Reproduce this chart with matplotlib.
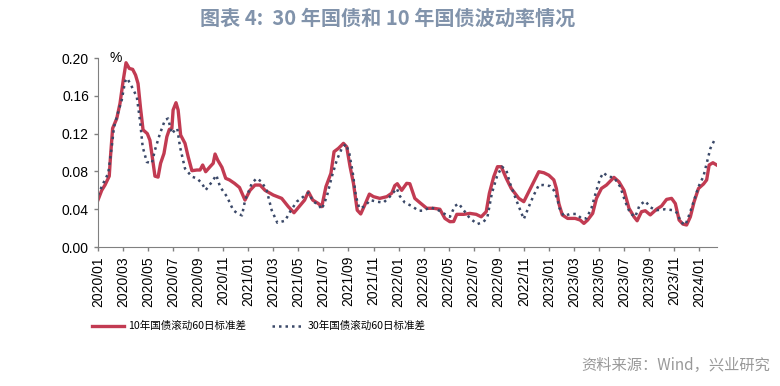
import matplotlib
matplotlib.use("Agg")
import matplotlib.pyplot as plt

plt.rcParams['font.family'] = ['Liberation Sans', 'Noto Sans CJK SC', 'DejaVu Sans']

# Mois écoulés depuis 2020/01 et valeurs
red_m = [0, 0.3, 0.56, 0.9, 1.0, 1.17, 1.5, 1.76, 2.02, 2.24, 2.5, 2.77, 3.0, 3.2, 3.4, 3.6,
         3.94, 4.15, 4.37, 4.55, 4.8, 5.0, 5.27, 5.5, 5.7, 5.9, 6.0, 6.23, 6.4, 6.6, 6.95, 7.2,
         7.5, 7.9, 8.15, 8.36, 8.6, 8.95, 9.2, 9.35, 9.56, 9.9, 10.2, 10.5, 10.9, 11.3, 11.74,
         12.14, 12.54, 12.94, 13.34, 14.0, 14.67, 15.2, 15.65, 16.1, 16.5, 16.8, 17.15, 17.6,
         17.87, 18.2, 18.6, 18.85, 19.2, 19.6, 19.86, 20.13, 20.4, 20.7, 20.98, 21.3, 21.67,
         22.0, 22.5, 23.06, 23.46, 23.7, 23.9, 24.25, 24.65, 24.9, 25.3, 25.7, 26.25, 26.8,
         27.3, 27.7, 28.1, 28.4, 28.65, 29.2, 29.7, 30.2, 30.6, 31.0, 31.25, 31.6, 31.9, 32.2,
         32.6, 33.0, 33.6, 34.0, 34.4, 34.8, 35.2, 35.6, 36.0, 36.4, 36.6, 36.8, 37.07, 37.5,
         38.1, 38.5, 38.8, 39.1, 39.5, 39.8, 40.2, 40.6, 41.2, 41.6, 42.0, 42.4, 42.8, 43.05,
         43.4, 43.7, 44.1, 44.6, 45.0, 45.4, 45.8, 46.1, 46.4, 46.7, 47.0, 47.3, 47.6, 47.95,
         48.35, 48.6, 48.8, 49.1, 49.4]
red_v = [0.0497, 0.060, 0.0656, 0.075, 0.0956, 0.1256, 0.136, 0.152, 0.1767, 0.195, 0.189,
         0.188, 0.182, 0.173, 0.1468, 0.124, 0.120, 0.113, 0.092, 0.075, 0.074, 0.0886, 0.099,
         0.1167, 0.1245, 0.1255, 0.145, 0.1527, 0.145, 0.1185, 0.1097, 0.0956, 0.0808, 0.0815,
         0.0815, 0.0868, 0.0797, 0.085, 0.0886, 0.0984, 0.092, 0.0843, 0.0727, 0.071, 0.0674,
         0.063, 0.0497, 0.060, 0.0656, 0.0656, 0.060, 0.055, 0.0515, 0.0427, 0.0363, 0.0434,
         0.0497, 0.0585, 0.0497, 0.046, 0.0427, 0.0638, 0.078, 0.1009, 0.1044, 0.1097, 0.106,
         0.085, 0.0674, 0.039, 0.035, 0.0444, 0.056, 0.0533, 0.0515, 0.0533, 0.057, 0.065,
         0.067, 0.060, 0.0674, 0.067, 0.0515, 0.047, 0.041, 0.041, 0.040, 0.0303, 0.0268, 0.027,
         0.0346, 0.0346, 0.0356, 0.0346, 0.032, 0.0374, 0.0568, 0.0744, 0.085, 0.085, 0.0727,
         0.062, 0.0515, 0.048, 0.0585, 0.069, 0.0797, 0.0786, 0.076, 0.071, 0.062, 0.046, 0.034,
         0.0303, 0.0303, 0.0286, 0.025, 0.0286, 0.0356, 0.0515, 0.062, 0.0656, 0.0737, 0.069,
         0.060, 0.041, 0.032, 0.0278, 0.0374, 0.0384, 0.034, 0.040, 0.0434, 0.0504, 0.0515,
         0.046, 0.0286, 0.0243, 0.0233, 0.032, 0.048, 0.062, 0.0667, 0.071, 0.0868, 0.0892,
         0.0868]

blue_m = [0, 0.42, 0.82, 1.1, 1.28, 1.62, 1.9, 2.16, 2.34, 2.7, 3.1, 3.35, 3.57, 3.9, 4.3,
          4.55, 4.95, 5.35, 5.6, 5.9, 6.15, 6.33, 6.55, 6.95, 7.5, 7.9, 8.3, 8.6, 9.1, 9.45,
          9.75, 10.3, 10.8, 11.2, 11.5, 11.75, 12.1, 12.28, 12.67, 13.07, 13.47, 13.87, 14.32,
          14.94, 15.34, 15.87, 16.4, 16.8, 17.2, 17.6, 17.87, 18.27, 18.67, 19.07, 19.47, 19.8,
          20.07, 20.35, 20.6, 20.87, 21.3, 21.73, 22.26, 22.8, 23.3, 23.86, 24.1, 24.5, 25.05,
          25.6, 26.0, 26.5, 27.05, 27.6, 28.1, 28.5, 28.8, 29.2, 29.7, 30.3, 30.8, 31.1, 31.45,
          31.85, 32.25, 32.6, 32.9, 33.4, 33.8, 34.0, 34.4, 34.8, 35.2, 35.6, 36.1, 36.4, 36.7,
          36.85, 37.2, 37.7, 38.2, 38.6, 39.0, 39.4, 39.8, 40.1, 40.35, 40.75, 41.2, 41.7, 42.1,
          42.5, 42.9, 43.25, 43.7, 44.1, 44.6, 45.3, 45.9, 46.3, 46.5, 46.9, 47.25, 47.6, 47.95,
          48.35, 48.7, 48.9, 49.2, 49.35]
blue_v = [0.055, 0.0674, 0.078, 0.106, 0.127, 0.143, 0.1556, 0.175, 0.1785, 0.1697, 0.159,
          0.1344, 0.106, 0.090, 0.0886, 0.1026, 0.120, 0.1344, 0.136, 0.120, 0.1238, 0.1256,
          0.106, 0.083, 0.0744, 0.0727, 0.0674, 0.0603, 0.069, 0.076, 0.0638, 0.0533, 0.039,
          0.035, 0.0335, 0.0497, 0.061, 0.0674, 0.0727, 0.069, 0.060, 0.039, 0.0257, 0.0278,
          0.0374, 0.048, 0.0533, 0.0575, 0.048, 0.045, 0.0399, 0.0533, 0.0744, 0.092, 0.1044,
          0.109, 0.099, 0.078, 0.0533, 0.041, 0.043, 0.0497, 0.048, 0.047, 0.0533, 0.062, 0.054,
          0.047, 0.0434, 0.0384, 0.0385, 0.042, 0.040, 0.0356, 0.032, 0.0434, 0.046, 0.039,
          0.0303, 0.0243, 0.0268, 0.032, 0.0568, 0.0744, 0.085, 0.0815, 0.0674, 0.0497, 0.0363,
          0.0296, 0.0427, 0.055, 0.0656, 0.0656, 0.0645, 0.060, 0.0497, 0.041, 0.0328, 0.035,
          0.035, 0.0303, 0.0303, 0.041, 0.060, 0.0727, 0.0786, 0.0744, 0.0737, 0.0638, 0.048,
          0.0356, 0.032, 0.0444, 0.0487, 0.042, 0.039, 0.040, 0.039, 0.0356, 0.0268, 0.0233,
          0.0356, 0.0497, 0.0638, 0.075, 0.0939, 0.1044, 0.1125, 0.115]

tick_pos = list(range(0, 49, 2))
tick_labels = [f"{2020 + m // 12}/{m % 12 + 1:02d}" for m in tick_pos]

fig = plt.figure(figsize=(7.8, 3.86), dpi=100)
ax = fig.add_axes([0.1256, 0.360, 0.7932, 0.4897])

ax.plot(red_m, red_v, color='#c23b52', lw=2.4, label='10年国债滚动60日标准差')
ax.plot(blue_m, blue_v, color='#3a4868', lw=1.8, linestyle=(0, (1, 1.6)),
        label='30年国债滚动60日标准差')

ax.set_xlim(0, 49.4)
ax.set_ylim(0, 0.2)
ax.set_yticks([0, 0.04, 0.08, 0.12, 0.16, 0.20])
ax.set_yticklabels([f"{v:.2f}" for v in [0, 0.04, 0.08, 0.12, 0.16, 0.20]])
ax.set_xticks(tick_pos)
ax.set_xticklabels(tick_labels, rotation=90)
ax.tick_params(axis='both', labelsize=10, length=3, color='#808080', width=1)
for s in ['top', 'right']:
    ax.spines[s].set_visible(False)
for s in ['left', 'bottom']:
    ax.spines[s].set_color('#808080')
ax.text(0.018, 1.0, '%', transform=ax.transAxes, fontsize=10, va='center')

fig.text(0.497, 0.953, '图表 4:  30 年国债和 10 年国债波动率情况', ha='center', va='center',
         fontsize=14.5, fontweight='bold', color='#8193ab',
         family=['Noto Sans CJK SC', 'DejaVu Sans'])

leg = fig.legend(loc='center', bbox_to_anchor=(0.332, 0.155), ncol=2, frameon=False,
                 handlelength=3.0, handletextpad=0.4, columnspacing=2.4,
                 prop={'family': 'Noto Sans CJK SC', 'size': 7.6})

fig.text(0.987, 0.052, '资料来源：Wind，兴业研究', ha='right', va='center', fontsize=11,
         color='#999999', family=['Noto Sans CJK SC', 'DejaVu Sans'])

fig.savefig('out.png', dpi=100)
